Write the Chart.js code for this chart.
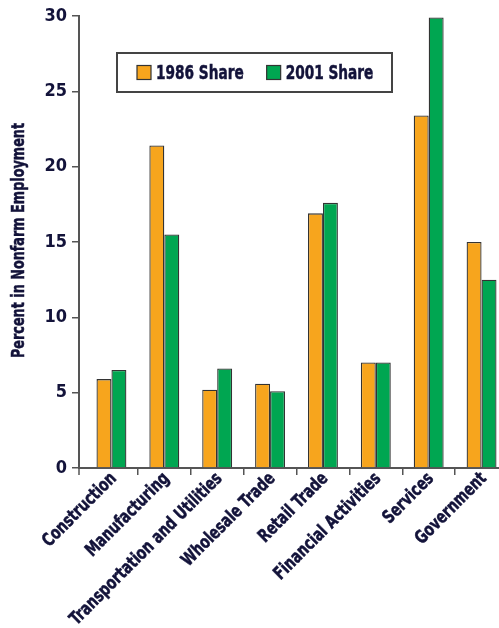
<!DOCTYPE html>
<html>
<head>
<meta charset="utf-8">
<script src="https://cdn.jsdelivr.net/npm/chart.js@4.4.1/dist/chart.umd.min.js"></script>
<style>
  html, body { margin: 0; padding: 0; background: #ffffff; overflow: hidden; }
  #wrap { position: relative; width: 512px; height: 628px; }
</style>
</head>
<body>
<div id="wrap"><canvas id="c" width="512" height="628"></canvas></div>
<script>
// Share of nonfarm employment by industry, 1986 vs 2001 (percent)
const categories = ['Construction', 'Manufacturing', 'Transportation and Utilities', 'Wholesale Trade',
                    'Retail Trade', 'Financial Activities', 'Services', 'Government'];
const share1986 = [5.9, 21.4, 5.2, 5.6, 16.9, 7.0, 23.4, 15.0];
const share2001 = [6.5, 15.5, 6.6, 5.1, 17.6, 7.0, 29.9, 12.5];
const seriesNames = ['1986 Share', '2001 Share'];
const yTicks = [0, 5, 10, 15, 20, 25, 30];
const yTitle = 'Percent in Nonfarm Employment';

const FONT = '"DejaVu Sans Condensed", "DejaVu Sans", sans-serif';
const INK = '#13133a';
const AXIS = '#555555';
const ORANGE = '#f7a51d';
const GREEN = '#00a651';
const SQUEEZE = 0.76;   // horizontal squeeze for the narrow bold lettering

// Leave a small gap between the value axis and the first category
const axisGap = {
  id: 'axisGap',
  afterLayout(chart) {
    const xs = chart.scales.x;
    xs._startPixel = xs.left + 6;
    xs._length = xs._endPixel - xs._startPixel;
  }
};

// Narrow lettering: rotated category names, value-axis title, start tick
const axisText = {
  id: 'axisText',
  afterDraw(chart) {
    const { ctx, chartArea } = chart;
    const xs = chart.scales.x;
    ctx.save();
    ctx.strokeStyle = AXIS;
    ctx.lineWidth = 1.5;
    ctx.beginPath();
    ctx.moveTo(chartArea.left, chartArea.bottom);
    ctx.lineTo(chartArea.left, chartArea.bottom + 7);
    ctx.stroke();

    ctx.fillStyle = INK;
    ctx.strokeStyle = INK;
    ctx.lineWidth = 0.5;
    ctx.font = 'bold 18px ' + FONT;
    ctx.textAlign = 'right';
    ctx.textBaseline = 'middle';
    chart.data.labels.forEach((lab, i) => {
      const x = xs.getPixelForValue(i) + 2.5;
      const y = chartArea.bottom + 8;
      ctx.save();
      ctx.translate(x, y);
      ctx.rotate(-Math.PI / 4);
      ctx.scale(0.825, 1);
      ctx.fillText(lab, 0, 0);
      ctx.strokeText(lab, 0, 0);
      ctx.restore();
    });

    ctx.font = 'bold 18px ' + FONT;
    ctx.textAlign = 'center';
    ctx.save();
    ctx.translate(19, (chartArea.top + chartArea.bottom) / 2 - 1.5);
    ctx.rotate(-Math.PI / 2);
    ctx.scale(SQUEEZE + 0.03, 1);
    ctx.fillText(yTitle, 0, 0);
    ctx.strokeText(yTitle, 0, 0);
    ctx.restore();
    ctx.restore();
  }
};

// Boxed legend inside the plot area
const legendBox = {
  id: 'legendBox',
  afterDraw(chart) {
    const { ctx, chartArea } = chart;
    const x0 = chartArea.left + 38, y0 = chartArea.top + 37, w = 275, h = 39;
    ctx.save();
    ctx.fillStyle = '#ffffff';
    ctx.fillRect(x0, y0, w, h);
    ctx.strokeStyle = '#444444';
    ctx.lineWidth = 2;
    ctx.strokeRect(x0, y0, w, h);
    ctx.font = 'bold 20px ' + FONT;
    ctx.textBaseline = 'middle';
    ctx.textAlign = 'left';
    let x = x0 + 20;
    const cy = y0 + h / 2;
    chart.data.datasets.forEach(ds => {
      ctx.fillStyle = ds.backgroundColor;
      ctx.fillRect(x, cy - 7, 14, 14);
      ctx.strokeStyle = '#333333';
      ctx.lineWidth = 1.2;
      ctx.strokeRect(x, cy - 7, 14, 14);
      ctx.fillStyle = INK;
      ctx.strokeStyle = INK;
      ctx.lineWidth = 0.5;
      ctx.save();
      ctx.translate(x + 19, cy + 1);
      ctx.scale(SQUEEZE, 1);
      ctx.fillText(ds.label, 0, 0);
      ctx.strokeText(ds.label, 0, 0);
      ctx.restore();
      x += 19 + ctx.measureText(ds.label).width * SQUEEZE + 23;
    });
    ctx.restore();
  }
};

new Chart(document.getElementById('c'), {
  type: 'bar',
  data: {
    labels: categories,
    datasets: [
      { label: seriesNames[0], data: share1986, backgroundColor: ORANGE, borderColor: '#333333', borderWidth: 1.3 },
      { label: seriesNames[1], data: share2001, backgroundColor: GREEN, borderColor: '#333333', borderWidth: 1.3 }
    ]
  },
  options: {
    responsive: false,
    animation: false,
    devicePixelRatio: 1,
    categoryPercentage: 0.566,
    barPercentage: 1.0,
    layout: { padding: { top: 16, right: 4, left: 0, bottom: 0 } },
    plugins: { legend: { display: false }, tooltip: { enabled: false } },
    scales: {
      x: {
        afterFit(s) { s.height = 160; },
        grid: {
          display: true, drawOnChartArea: false, drawTicks: true, tickLength: 7,
          color: ctx => ctx.index === 0 ? 'rgba(0,0,0,0)' : AXIS, lineWidth: 1.5
        },
        border: { display: true, color: AXIS, width: 2 },
        ticks: { display: false, autoSkip: false }
      },
      y: {
        min: 0, max: 30,
        afterFit(s) { s.width = 79; },
        afterBuildTicks(s) { s.ticks = yTicks.map(v => ({ value: v })); },
        grid: { display: true, drawOnChartArea: false, drawTicks: true, tickLength: 7, color: AXIS, lineWidth: 1.5 },
        border: { display: true, color: AXIS, width: 2 },
        ticks: { padding: 5, color: INK, font: { family: FONT, weight: 'bold', size: 18 } },
        title: { display: false }
      }
    }
  },
  plugins: [axisGap, axisText, legendBox]
});
</script>
</body>
</html>
